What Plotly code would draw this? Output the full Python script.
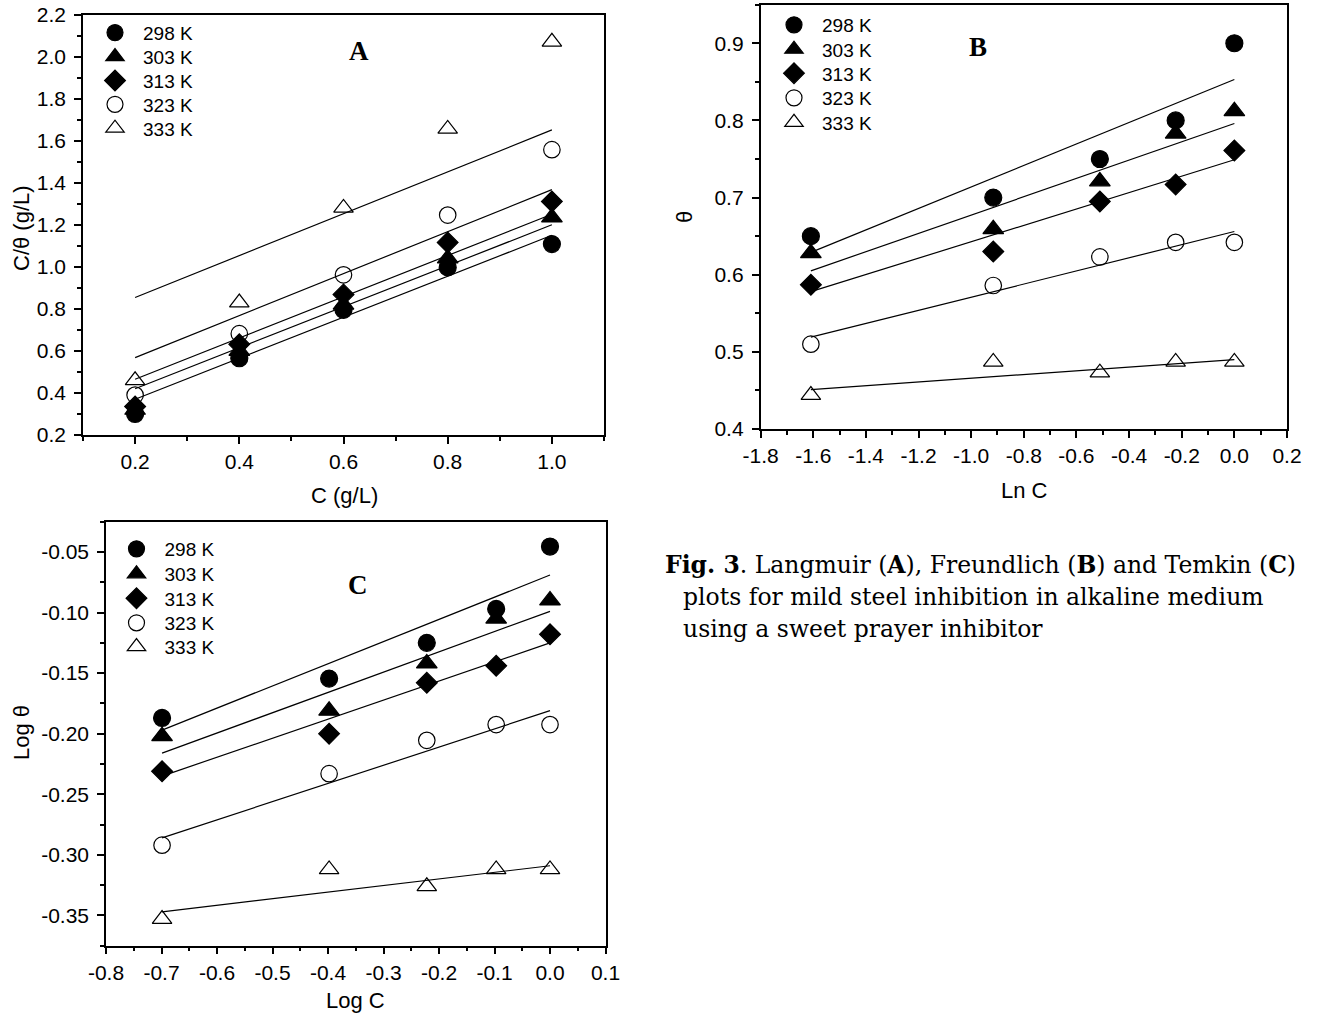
import plotly.graph_objects as go

# ---------------- data ----------------
temps = ["298 K", "303 K", "313 K", "323 K", "333 K"]

conc_gL = [0.2, 0.4, 0.6, 0.8, 1.0]
ln_conc = [-1.609, -0.916, -0.511, -0.223, 0.0]
log_conc = [-0.699, -0.398, -0.222, -0.097, 0.0]

# Panel A: Langmuir, C/theta (g/L)
langmuir_298 = [0.30, 0.565, 0.795, 0.997, 1.108]
langmuir_303 = [0.32, 0.60, 0.82, 1.04, 1.235]
langmuir_313 = [0.335, 0.632, 0.868, 1.116, 1.311]
langmuir_323 = [0.39, 0.682, 0.962, 1.246, 1.557]
langmuir_333 = [0.46, 0.83, 1.28, 1.656, 2.07]
# fitted lines (value at C = 0.2 and at C = 1.0)
langmuir_fit_x = [0.2, 1.0]
langmuir_fit_298 = [0.37, 1.15]
langmuir_fit_303 = [0.42, 1.20]
langmuir_fit_313 = [0.465, 1.25]
langmuir_fit_323 = [0.568, 1.367]
langmuir_fit_333 = [0.854, 1.651]

# Panel B: Freundlich, theta vs ln C
freund_298 = [0.650, 0.700, 0.750, 0.800, 0.900]
freund_303 = [0.628, 0.659, 0.721, 0.783, 0.812]
freund_313 = [0.587, 0.630, 0.695, 0.717, 0.761]
freund_323 = [0.510, 0.586, 0.623, 0.642, 0.642]
freund_333 = [0.444, 0.487, 0.473, 0.487, 0.487]
freund_fit_x = [-1.609, 0.0]
freund_fit_298 = [0.629, 0.853]
freund_fit_303 = [0.605, 0.796]
freund_fit_313 = [0.578, 0.749]
freund_fit_323 = [0.519, 0.656]
freund_fit_333 = [0.451, 0.490]

# Panel C: Temkin, log theta vs log C
temkin_298 = [-0.187, -0.1545, -0.125, -0.097, -0.0455]
temkin_303 = [-0.202, -0.181, -0.142, -0.105, -0.090]
temkin_313 = [-0.231, -0.200, -0.158, -0.144, -0.118]
temkin_323 = [-0.292, -0.233, -0.2055, -0.1925, -0.1925]
temkin_333 = [-0.353, -0.312, -0.326, -0.312, -0.312]
temkin_fit_x = [-0.699, 0.0]
temkin_fit_298 = [-0.197, -0.069]
temkin_fit_303 = [-0.216, -0.099]
temkin_fit_313 = [-0.235, -0.125]
temkin_fit_323 = [-0.286, -0.181]
temkin_fit_333 = [-0.347, -0.309]

# tick values / labels
a_xticks = [0.2, 0.4, 0.6, 0.8, 1.0]
a_xlabels = ["0.2", "0.4", "0.6", "0.8", "1.0"]
a_yticks = [0.2, 0.4, 0.6, 0.8, 1.0, 1.2, 1.4, 1.6, 1.8, 2.0, 2.2]
a_ylabels = ["0.2", "0.4", "0.6", "0.8", "1.0", "1.2", "1.4", "1.6", "1.8", "2.0", "2.2"]
b_xticks = [-1.8, -1.6, -1.4, -1.2, -1.0, -0.8, -0.6, -0.4, -0.2, 0.0, 0.2]
b_xlabels = ["-1.8", "-1.6", "-1.4", "-1.2", "-1.0", "-0.8", "-0.6", "-0.4", "-0.2", "0.0", "0.2"]
b_yticks = [0.4, 0.5, 0.6, 0.7, 0.8, 0.9]
b_ylabels = ["0.4", "0.5", "0.6", "0.7", "0.8", "0.9"]
c_xticks = [-0.8, -0.7, -0.6, -0.5, -0.4, -0.3, -0.2, -0.1, 0.0, 0.1]
c_xlabels = ["-0.8", "-0.7", "-0.6", "-0.5", "-0.4", "-0.3", "-0.2", "-0.1", "0.0", "0.1"]
c_yticks = [-0.35, -0.30, -0.25, -0.20, -0.15, -0.10, -0.05]
c_ylabels = ["-0.35", "-0.30", "-0.25", "-0.20", "-0.15", "-0.10", "-0.05"]

# ---------------- layout helpers ----------------
W, H = 1317, 1024
SANS = "Arial, 'Liberation Sans', sans-serif"
SERIF = "'DejaVu Serif', serif"


def fx(px):
    return px / W


def fy(py):
    return 1 - py / H


symbols = ["circle", "triangle-up", "diamond", "circle-open", "triangle-up-open"]
msizes = [17, 18, 16, 16.5, 17]

panels = [
    dict(ax="", x=conc_gL,
         ys=[langmuir_298, langmuir_303, langmuir_313, langmuir_323, langmuir_333],
         fx_=langmuir_fit_x,
         fits=[langmuir_fit_298, langmuir_fit_303, langmuir_fit_313, langmuir_fit_323, langmuir_fit_333],
         leg_x=115, leg_y=[32.7, 56.7, 80.7, 104.5, 128.3]),
    dict(ax="2", x=ln_conc,
         ys=[freund_298, freund_303, freund_313, freund_323, freund_333],
         fx_=freund_fit_x,
         fits=[freund_fit_298, freund_fit_303, freund_fit_313, freund_fit_323, freund_fit_333],
         leg_x=794, leg_y=[25, 49.3, 73.3, 98, 122.5]),
    dict(ax="3", x=log_conc,
         ys=[temkin_298, temkin_303, temkin_313, temkin_323, temkin_333],
         fx_=temkin_fit_x,
         fits=[temkin_fit_298, temkin_fit_303, temkin_fit_313, temkin_fit_323, temkin_fit_333],
         leg_x=136.5, leg_y=[549, 574, 598.3, 623, 646.7]),
]

fig = go.Figure()
legends = {}
ITEMW = 46
LEG_FONT = 19
SYM_OFF = 28  # distance from legend left edge to symbol centre

n = 0
for p in panels:
    xa = "x" + p["ax"]
    ya = "y" + p["ax"]
    for i in range(5):
        fig.add_trace(go.Scatter(
            x=p["fx_"], y=p["fits"][i], mode="lines",
            line=dict(color="black", width=1.2),
            xaxis=xa, yaxis=ya, showlegend=False, hoverinfo="skip"))
    for i in range(5):
        n += 1
        lid = "legend" if n == 1 else f"legend{n}"
        fig.add_trace(go.Scatter(
            x=p["x"], y=p["ys"][i], mode="markers", name=temps[i],
            marker=dict(symbol=symbols[i], size=msizes[i], color="black",
                        line=dict(color="black", width=1.2)),
            xaxis=xa, yaxis=ya, legend=lid, showlegend=True))
        legends[lid] = dict(
            x=fx(p["leg_x"] - SYM_OFF), y=fy(p["leg_y"][i]),
            xanchor="left", yanchor="middle",
            bgcolor="rgba(0,0,0,0)", borderwidth=0,
            font=dict(family=SANS, size=LEG_FONT, color="black"),
            itemwidth=ITEMW, tracegroupgap=0)


def axis(domain, rng, tickvals, ticktext, minor_dtick, minor_tick0, anchor, standoff):
    return dict(
        domain=domain, range=rng, anchor=anchor, automargin=False,
        tickmode="array", tickvals=tickvals, ticktext=ticktext,
        ticks="outside", ticklen=7, tickwidth=1.5, tickcolor="black",
        showline=True, linewidth=1.5, linecolor="black", mirror=True,
        showgrid=False, zeroline=False,
        tickfont=dict(family=SANS, size=21, color="black"),
        ticklabelstandoff=standoff,
        minor=dict(ticks="outside", ticklen=4, tickwidth=1.5, tickcolor="black",
                   tickmode="linear", dtick=minor_dtick, tick0=minor_tick0, showgrid=False),
    )


A_x = (83, 604); A_y = (14.5, 435)
B_x = (760.6, 1287); B_y = (4.7, 429)
C_x = (106, 605.5); C_y = (521.7, 945.7)

layout = dict(
    template="none",
    width=W, height=H, margin=dict(l=0, r=0, t=0, b=0),
    paper_bgcolor="white", plot_bgcolor="white",
    xaxis=axis([fx(A_x[0]), fx(A_x[1])], [0.1, 1.1], a_xticks, a_xlabels, 0.1, 0.1, "y", 0),
    yaxis=axis([fy(A_y[1]), fy(A_y[0])], [0.2, 2.2], a_yticks, a_ylabels, 0.1, 0.1, "x", 4),
    xaxis2=axis([fx(B_x[0]), fx(B_x[1])], [-1.8, 0.2], b_xticks, b_xlabels, 0.1, 0.1, "y2", 0),
    yaxis2=axis([fy(B_y[1]), fy(B_y[0])], [0.4, 0.95], b_yticks, b_ylabels, 0.05, 0.4, "x2", 4),
    xaxis3=axis([fx(C_x[0]), fx(C_x[1])], [-0.8, 0.1], c_xticks, c_xlabels, 0.05, 0.05, "y3", 0),
    yaxis3=axis([fy(C_y[1]), fy(C_y[0])], [-0.375, -0.025], c_yticks, c_ylabels, 0.025, 0.0, "x3", 4),
)
layout.update(legends)

TITLE_FONT = dict(family=SANS, size=22, color="black")
LETTER_FONT = dict(family="'Liberation Serif', serif", size=27, color="black")
CAP_FONT = dict(family=SERIF, size=23.5, color="black")


def ann(text, x, y, font, angle=0, xanchor="center"):
    return dict(text=text, x=fx(x), y=fy(y), xref="paper", yref="paper",
                showarrow=False, font=font, textangle=angle,
                xanchor=xanchor, yanchor="middle")


annotations = [
    ann("C (g/L)", 344, 495, TITLE_FONT),
    ann("C/θ (g/L)", 21, 228, TITLE_FONT, angle=-90),
    ann("Ln C", 1024, 490, TITLE_FONT),
    ann("θ", 684, 217, TITLE_FONT, angle=-90),
    ann("Log C", 355, 1000, TITLE_FONT),
    ann("Log θ", 21, 733, TITLE_FONT, angle=-90),
    ann("<b>A</b>", 359, 51, LETTER_FONT),
    ann("<b>B</b>", 978, 47, LETTER_FONT),
    ann("<b>C</b>", 358, 585, LETTER_FONT),
    ann("<b>Fig. 3</b>. Langmuir (<b>A</b>), Freundlich (<b>B</b>) and Temkin (<b>C</b>)",
        663, 565, CAP_FONT, xanchor="left"),
    ann("plots for mild steel inhibition in alkaline medium", 681, 597, CAP_FONT, xanchor="left"),
    ann("using a sweet prayer inhibitor", 681, 629, CAP_FONT, xanchor="left"),
]
layout["annotations"] = annotations

fig.update_layout(**layout)
fig.write_html("out.html")
